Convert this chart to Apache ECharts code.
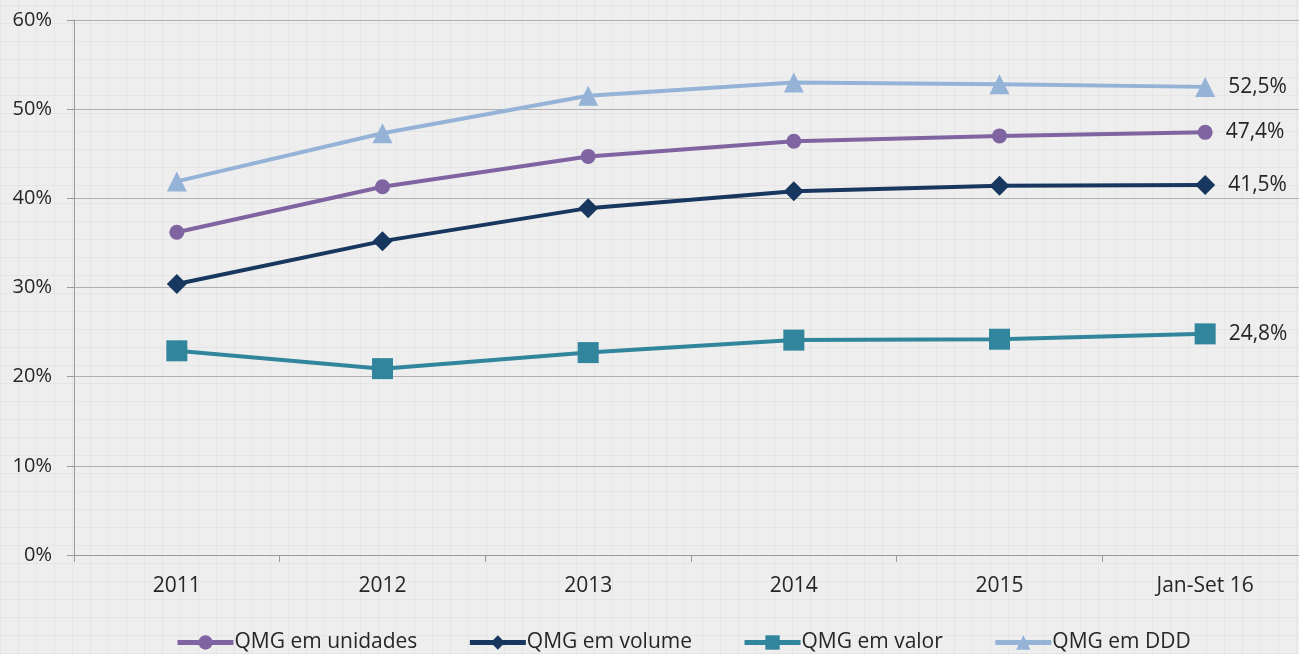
<!DOCTYPE html>
<html><head><meta charset="utf-8">
<script src="https://cdn.jsdelivr.net/npm/echarts@6/dist/echarts.min.js"></script>
<style>
html,body{margin:0;padding:0;overflow:hidden;width:1299px;height:654px;background:#eeeeee;}
#c{width:1310px;height:654px;background-color:#eeeeee;
background-image:repeating-linear-gradient(0deg, rgba(0,0,0,0.035) 0 1px, transparent 1px 18px),
repeating-linear-gradient(90deg, rgba(0,0,0,0.035) 0 1px, transparent 1px 18px);}
</style></head>
<body><div id="c"></div>
<script>
const categories = ['2011','2012','2013','2014','2015','Jan-Set 16'];
const unidades = [36.2, 41.3, 44.7, 46.4, 47.0, 47.4];
const volume   = [30.4, 35.2, 38.9, 40.8, 41.4, 41.5];
const valor    = [22.9, 20.9, 22.7, 24.1, 24.2, 24.8];
const ddd      = [41.9, 47.3, 51.5, 53.0, 52.8, 52.5];
const names = ['QMG em unidades','QMG em volume','QMG em valor','QMG em DDD'];

const font = '"Open Sans", "Noto Sans", sans-serif';
function mk(name, data, color, symbol, size){
  return {
    name, type:'line', data, symbol, symbolSize:size,
    lineStyle:{color, width:4}, itemStyle:{color},
    label:{show:true, position:'right', distance:13, fontSize:21, fontFamily:font, color:'#262626',
      formatter:p => p.dataIndex === data.length-1 ? p.value.toFixed(1).replace('.',',')+'%' : ''},
    z:2
  };
}
const chart = echarts.init(document.getElementById('c'));
chart.setOption({
  backgroundColor:'transparent',
  animation:false,
  grid:{left:74, top:20, width:1234, height:535},
  legend:{
    bottom:-4, left:170, itemWidth:56, itemHeight:18, itemGap:50,
    lineStyle:{width:5},
    textStyle:{fontSize:21, fontFamily:font, color:'#262626', padding:[0,0,0,-4]},
    data:names
  },
  xAxis:{
    type:'category', data:categories, boundaryGap:true,
    axisLine:{lineStyle:{color:'#9a9a9a', width:1}},
    axisTick:{show:true, length:7, lineStyle:{color:'#9a9a9a'}},
    axisLabel:{fontSize:21, fontFamily:font, color:'#262626', margin:21}
  },
  yAxis:{
    type:'value', min:0, max:60, interval:10,
    axisLine:{show:true, lineStyle:{color:'#9a9a9a'}},
    axisTick:{show:true, length:7, lineStyle:{color:'#9a9a9a'}},
    axisLabel:{formatter:'{value}%', fontSize:20, fontFamily:font, color:'#262626', margin:22},
    splitLine:{lineStyle:{color:'#b0b0b0', width:1}}
  },
  series:[
    mk(names[0], unidades, '#8064a2', 'circle', 15),
    mk(names[1], volume, '#17375e', 'diamond', 20),
    mk(names[2], valor, '#31859c', 'rect', 21),
    mk(names[3], ddd, '#95b3d7', 'triangle', 20)
  ]
});
</script></body></html>
